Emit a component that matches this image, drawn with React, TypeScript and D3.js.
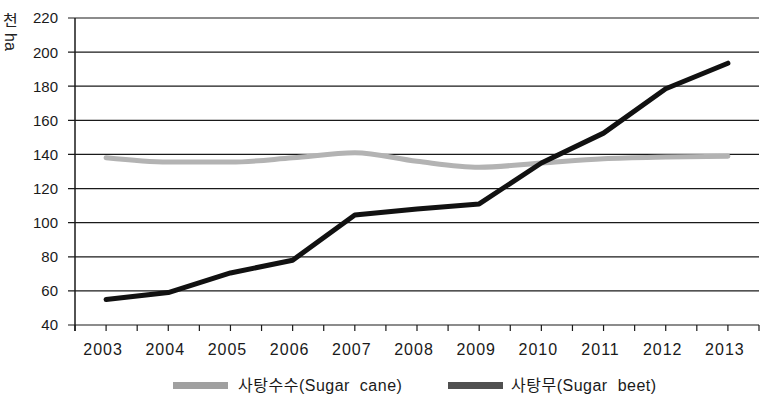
import { useMemo } from "react";
import { scaleLinear, scalePoint, line as d3Line, curveMonotoneX, curveLinear } from "d3";

const years = ["2003", "2004", "2005", "2006", "2007", "2008", "2009", "2010", "2011", "2012", "2013"];
const sugarCane = [138, 135.5, 135.5, 138, 141, 136, 132.5, 135, 137.5, 138.5, 139];
const sugarBeet = [55, 59, 70.5, 78, 104.5, 108, 111, 135, 152.5, 178.5, 193.5];
const yTicks = [40, 60, 80, 100, 120, 140, 160, 180, 200, 220];

const W = 769;
const H = 400;
const MARGIN = { top: 18, right: 10, bottom: 75, left: 75 };
const FONT = "'Liberation Sans', Arial, 'Noto Sans CJK KR', sans-serif";

export default function App() {
  const innerWidth = W - MARGIN.left - MARGIN.right;
  const innerHeight = H - MARGIN.top - MARGIN.bottom;

  const { x, y, step } = useMemo(() => {
    const x = scalePoint<string>().domain(years).range([0, innerWidth]).padding(0.5);
    const y = scaleLinear().domain([40, 220]).range([innerHeight, 0]);
    return { x, y, step: x.step() };
  }, [innerWidth, innerHeight]);

  const canePath = useMemo(() => {
    const gen = d3Line<number>()
      .x((_, i) => x(years[i])!)
      .y((d) => y(d))
      .curve(curveMonotoneX);
    return gen(sugarCane) ?? "";
  }, [x, y]);

  const beetPath = useMemo(() => {
    const gen = d3Line<number>()
      .x((_, i) => x(years[i])!)
      .y((d) => y(d))
      .curve(curveLinear);
    return gen(sugarBeet) ?? "";
  }, [x, y]);

  // x tick marks at each category and at the boundaries between them
  const xTickPos: number[] = [];
  for (let i = 0; i <= years.length * 2; i++) xTickPos.push((i * step) / 2);

  return (
    <svg
      width={W}
      height={H}
      viewBox={`0 0 ${W} ${H}`}
      style={{ position: "absolute", left: 0, top: 0, background: "#fff" }}
      fontFamily={FONT}
    >
      {/* y unit label: 천 upright, ha rotated */}
      <text x={3} y={26} fontSize={16} fill="#222">천</text>
      <text transform="translate(5,33) rotate(90)" fontSize={16} fill="#222">ha</text>
      <g transform={`translate(${MARGIN.left},${MARGIN.top})`}>
        {/* gridlines + y ticks */}
        {yTicks.map((t) => (
          <g key={t}>
            <line x1={-7} x2={innerWidth} y1={y(t)} y2={y(t)} stroke="#1a1a1a" strokeWidth={1.2} />
            <text x={-17} y={y(t)} dy="0.36em" textAnchor="end" fontSize={15} fill="#1a1a1a">
              {t}
            </text>
          </g>
        ))}
        {/* y axis line */}
        <line x1={0} x2={0} y1={0} y2={innerHeight + 6} stroke="#1a1a1a" strokeWidth={1.5} />
        {/* x ticks */}
        {xTickPos.map((p, i) => (
          <line key={i} x1={p} x2={p} y1={innerHeight} y2={innerHeight + 6} stroke="#1a1a1a" strokeWidth={1.2} />
        ))}
        {years.map((yr) => (
          <text
            key={yr}
            x={x(yr)! - 3}
            y={innerHeight + 30}
            textAnchor="middle"
            fontSize={16}
            letterSpacing={1}
            fill="#1a1a1a"
          >
            {yr}
          </text>
        ))}
        {/* series */}
        <path d={canePath} fill="none" stroke="#b3b3b3" strokeWidth={5} strokeLinecap="round" strokeLinejoin="round" />
        <path d={beetPath} fill="none" stroke="#111" strokeWidth={5} strokeLinecap="round" strokeLinejoin="round" />
      </g>
      {/* legend */}
      <g fontSize={16} fill="#1a1a1a" wordSpacing={5} letterSpacing={0.5}>
        <rect x={173} y={382} width={55} height={7} fill="#a0a0a0" />
        <text x={238} y={385} dy="0.36em">사탕수수(Sugar cane)</text>
        <rect x={448} y={382} width={55} height={7} fill="#505050" />
        <text x={511} y={385} dy="0.36em">사탕무(Sugar beet)</text>
      </g>
    </svg>
  );
}
